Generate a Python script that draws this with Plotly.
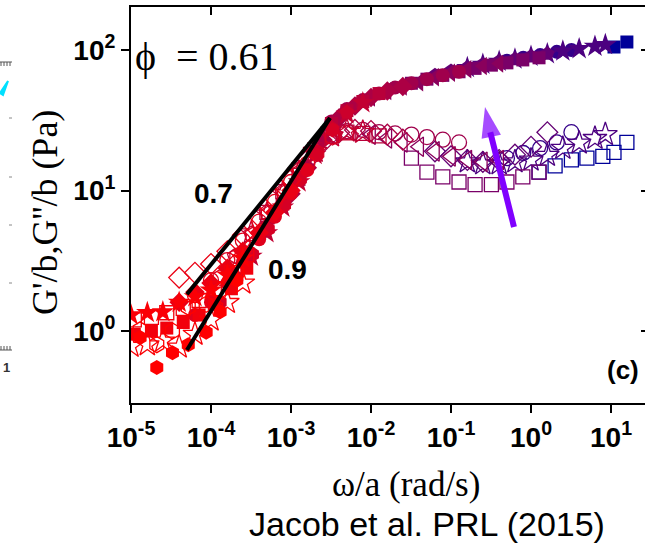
import numpy as np
import plotly.graph_objects as go

# ---------------- data ----------------
w0 = [1.3e-5, 2.1e-5, 3.3e-5, 5.2e-5, 8.7e-5, 1.3e-4, 2.1e-4]
gp0 = [0.90, 0.55, 0.70, 0.80, 0.98, 1.37, 2.3]
gpp0 = [1.02, 0.80, 1.00, 1.48, 1.55, 1.95, 2.6]

w1 = [1.0e-5, 1.6e-5, 2.5e-5, 4.0e-5, 6.3e-5, 1.0e-4, 1.6e-4, 2.5e-4]
gp1 = [1.30, 1.35, 1.37, 1.60, 1.75, 1.95, 2.5, 3.3]
gpp1 = [0.78, 0.80, 0.85, 0.77, 0.95, 1.20, 1.60, 2.2]

w2 = [1.1e-5, 1.8e-5, 2.8e-5, 4.5e-5, 7.1e-5, 1.1e-4, 1.8e-4, 2.8e-4]
gp2 = [0.95, 1.00, 1.05, 1.15, 1.30, 1.55, 2.0, 2.8]
gpp2 = [1.20, 1.25, 1.35, 1.45, 1.65, 2.0, 2.6, 3.5]

w3 = [4.0e-5, 6.3e-5, 1.0e-4, 1.6e-4, 2.5e-4, 4.0e-4, 6.3e-4, 1.0e-3]
gp3 = [1.6, 1.9, 2.2, 2.8, 3.7, 5.0, 7.0, 10.0]
gpp3 = [2.4, 2.6, 3.0, 3.7, 4.8, 6.5, 8.8, 12.0]

w4 = [6.3e-5, 1.0e-4, 1.6e-4, 2.5e-4, 4.0e-4, 6.3e-4, 1.0e-3, 1.6e-3]
gp4 = [1.3, 1.6, 2.2, 3.1, 4.5, 6.5, 9.5, 14.0]
gpp4 = [1.8, 2.3, 3.2, 4.4, 6.0, 8.3, 11.5, 15.5]

w5 = [1.3e-4, 2.1e-4, 3.3e-4, 5.2e-4, 8.3e-4, 1.3e-3, 2.1e-3, 3.3e-3]
gp5 = [1.6, 2.4, 3.5, 5.3, 7.9, 12.0, 18.0, 27.0]
gpp5 = [2.4, 3.4, 4.8, 6.8, 9.6, 13.5, 18.5, 24.0]

w6 = [2.0e-4, 3.2e-4, 5.0e-4, 7.9e-4, 1.26e-3, 2.0e-3, 3.2e-3, 5.0e-3]
gp6 = [2.4, 3.6, 5.4, 8.2, 12.5, 19.0, 28.0, 36.0]
gpp6 = [3.4, 4.9, 7.0, 9.8, 14.0, 19.0, 24.0, 25.5]

w7 = [3.2e-4, 5.0e-4, 7.9e-4, 1.26e-3, 2.0e-3, 3.2e-3, 5.0e-3, 7.9e-3]
gp7 = [3.4, 5.0, 7.6, 11.5, 18.0, 27.0, 35.0, 42.0]
gpp7 = [5.0, 6.8, 9.5, 13.5, 19.0, 24.5, 26.5, 26.0]

w8 = [5.0e-4, 7.9e-4, 1.26e-3, 2.0e-3, 3.2e-3, 5.0e-3, 7.9e-3, 1.26e-2]
gp8 = [5.5, 8.0, 12.0, 19.0, 30.0, 37.0, 43.0, 49.0]
gpp8 = [7.0, 9.8, 14.0, 19.5, 24.5, 26.0, 25.5, 24.5]

w9 = [1.0e-3, 1.6e-3, 2.5e-3, 4.0e-3, 6.3e-3, 1.0e-2, 1.6e-2, 2.5e-2]
gp9 = [9.5, 14.5, 23.0, 33.0, 40.0, 46.0, 51.0, 55.0]
gpp9 = [12.0, 16.5, 22.0, 26.0, 27.0, 26.5, 25.0, 23.0]

w10 = [3.2e-3, 5.0e-3, 7.9e-3, 1.26e-2, 2.0e-2, 3.2e-2, 5.0e-2, 7.9e-2, 1.26e-1]
gp10 = [31.0, 38.0, 44.0, 49.0, 54.0, 58.0, 62.0, 66.0, 70.0]
gpp10 = [25.0, 26.5, 27.0, 26.0, 25.5, 25.0, 24.0, 23.0, 22.0]

w11 = [1.0e-2, 1.6e-2, 2.5e-2, 4.0e-2, 6.3e-2, 1.0e-1, 1.6e-1, 2.5e-1, 4.0e-1]
gp11 = [46.0, 51.0, 55.0, 59.0, 64.0, 69.0, 73.0, 77.0, 80.0]
gpp11 = [25.0, 23.5, 22.0, 20.5, 19.0, 17.5, 16.5, 16.0, 16.5]

w12 = [3.2e-2, 5.0e-2, 7.9e-2, 1.26e-1, 2.0e-1, 3.2e-1, 5.0e-1, 7.9e-1, 1.26]
gp12 = [58, 62, 66, 70, 74, 78, 81, 85, 88]
gpp12 = [17.0, 13.5, 12.5, 11.5, 11.0, 11.0, 11.5, 12.5, 13.5]

w13 = [6.3e-2, 1.0e-1, 1.6e-1, 2.5e-1, 4.0e-1, 6.3e-1, 1.0, 1.6]
gp13 = [66, 71, 75, 79, 83, 86, 90, 94]
gpp13 = [19.0, 17.5, 16.5, 16.0, 16.5, 18.0, 20.5, 26.0]

w14 = [1.6e-1, 2.5e-1, 4.0e-1, 6.3e-1, 1.0, 1.6, 2.5, 4.0, 6.3, 8.5]
gp14 = [75, 79, 83, 86, 90, 94, 98, 102, 106, 109]
gpp14 = [16.0, 15.5, 15.5, 16.0, 16.5, 17.8, 20.0, 21.8, 23.5, 25.0]

w15 = [5.0e-1, 8.0e-1, 1.3, 2.1, 3.2]
gp15 = [84, 88, 92, 97, 100]
gpp15 = [17.0, 18.5, 20.0, 22.0, 26.0]

w16 = [1.26, 2.0, 3.2, 5.0, 7.9, 10.9, 15.8]
gp16 = [None, None, None, None, None, 105, 114]
gpp16 = [13.5, 15.0, 16.5, 17.0, 17.5, 18.7, 22.0]

set_w = [w0, w1, w2, w3, w4, w5, w6, w7, w8, w9, w10, w11, w12, w13, w14, w15, w16]
set_gp = [gp0, gp1, gp2, gp3, gp4, gp5, gp6, gp7, gp8, gp9, gp10, gp11, gp12, gp13, gp14, gp15, gp16]
set_gpp = [gpp0, gpp1, gpp2, gpp3, gpp4, gpp5, gpp6, gpp7, gpp8, gpp9, gpp10, gpp11, gpp12,
           gpp13, gpp14, gpp15, gpp16]

set_colors = ["#ff0000", "#fa0006", "#f2000c", "#ea0014", "#e0001c", "#d60024", "#cc002c",
              "#c20032", "#b8003a", "#ac0044", "#a0004c", "#8a005c", "#7a0068", "#640074",
              "#4c0080", "#34008a", "#000099"]
sym_fill = ["hexagon", "star", "square", "diamond", "circle", "hexagon", "pentagon", "star",
            "square", "diamond", "circle", "triangle-left", "square", "pentagon", "star",
            "circle", "square"]
sym_open = ["hexagon", "star", "square", "diamond", "circle", "hexagon", "pentagon", "star",
            "square", "diamond", "circle", "triangle-left", "square", "diamond", "star",
            "circle", "square"]
sym_size = {"hexagon": 15, "star": 17, "square": 13, "diamond": 15, "circle": 14,
            "pentagon": 15, "triangle-left": 16}

# slope guide lines
slope07_w = [5.0e-5, 3.07e-3]
slope07_g = [1.83, 32.8]
slope09_w = [5.0e-5, 3.07e-3]
slope09_g = [0.733, 32.8]

# arrow (tail -> head base -> tip)
arrow_w = [0.613, 0.31, 0.266]
arrow_g = [5.5, 26.0, 39.3]

xtick_vals = [1e-5, 1e-4, 1e-3, 1e-2, 1e-1, 1e0, 1e1]
xtick_text = ["10<sup>-5</sup>", "10<sup>-4</sup>", "10<sup>-3</sup>", "10<sup>-2</sup>",
              "10<sup>-1</sup>", "10<sup>0</sup>", "10<sup>1</sup>"]
ytick_vals = [1, 10, 100]
ytick_text = ["10<sup>0</sup>", "10<sup>1</sup>", "10<sup>2</sup>"]

# ---------------- figure ----------------
fig = go.Figure()

for i in reversed(range(len(set_w))):
    c = set_colors[i]
    so = sym_open[i]
    sf = sym_fill[i]
    fig.add_trace(go.Scatter(
        x=set_w[i], y=set_gpp[i], mode="markers",
        marker=dict(symbol=so + "-open", size=sym_size[so] + 1, color=c,
                    line=dict(color=c, width=1.3)),
        hoverinfo="skip"))
    fig.add_trace(go.Scatter(
        x=set_w[i], y=set_gp[i], mode="markers",
        marker=dict(symbol=sf, size=sym_size[sf], color=c, line=dict(width=0)),
        hoverinfo="skip"))

for xs, ys in [(slope07_w, slope07_g), (slope09_w, slope09_g)]:
    fig.add_trace(go.Scatter(x=xs, y=ys, mode="lines",
                             line=dict(color="black", width=4), hoverinfo="skip"))

# arrow shaft
fig.add_trace(go.Scatter(x=arrow_w[:2], y=arrow_g[:2], mode="lines",
                         line=dict(color="#8000ff", width=6), hoverinfo="skip"))
# arrow head
fig.add_trace(go.Scatter(x=arrow_w[1:], y=arrow_g[1:], mode="markers",
                         marker=dict(symbol="arrow", size=[0, 32], color="#8000ff",
                                     angleref="previous", line=dict(width=0)),
                         hoverinfo="skip"))

# invisible helpers for the mirrored axes
fig.add_trace(go.Scatter(x=[1e-3], y=[10], xaxis="x2", yaxis="y", mode="markers",
                         marker=dict(opacity=0), hoverinfo="skip"))
fig.add_trace(go.Scatter(x=[1e-3], y=[10], xaxis="x", yaxis="y2", mode="markers",
                         marker=dict(opacity=0), hoverinfo="skip"))

xr = [-5, 1.425]
yr = [-0.512, 2.306]
tickfont = dict(family="Liberation Sans", size=28, color="black", weight="bold")

fig.update_layout(
    width=645, height=544,
    margin=dict(l=131, r=0, t=7, b=141),
    paper_bgcolor="white", plot_bgcolor="white",
    showlegend=False,
    xaxis=dict(type="log", range=xr, showline=True, linecolor="black", linewidth=2,
               ticks="outside", ticklen=8, tickwidth=2, tickcolor="black",
               tickvals=xtick_vals, ticktext=xtick_text, tickfont=tickfont,
               showgrid=False, zeroline=False),
    xaxis2=dict(type="log", range=xr, overlaying="x", side="top", showline=True,
                linecolor="black", linewidth=2, ticks="inside", ticklen=8, tickwidth=2,
                tickcolor="black", tickvals=xtick_vals, showticklabels=False,
                showgrid=False, zeroline=False),
    yaxis=dict(type="log", range=yr, showline=True, linecolor="black", linewidth=2,
               ticks="outside", ticklen=8, tickwidth=2, tickcolor="black",
               tickvals=ytick_vals, ticktext=ytick_text, tickfont=tickfont,
               showgrid=False, zeroline=False),
    yaxis2=dict(type="log", range=yr, overlaying="y", side="right", showline=False,
                ticks="inside", ticklen=4, tickwidth=2, tickcolor="black",
                tickvals=ytick_vals, showticklabels=False, showgrid=False, zeroline=False),
)

serif = "Liberation Serif"
sans = "Liberation Sans"
ann = [
    dict(text="ω/a (rad/s)", x=0.535, y=-0.205, font=dict(family=serif, size=35)),
    dict(text="Jacob et al. PRL (2015)", x=0.576, y=-0.3055, font=dict(family=sans, size=34)),
    dict(text="G'/b,G''/b (Pa)", x=-0.167, y=0.48, textangle=-90,
         font=dict(family=serif, size=36)),
    dict(text="ϕ  = 0.61", x=0.148, y=0.876, font=dict(family=serif, size=40)),
    dict(text="<b>0.7</b>", x=0.161, y=0.53, font=dict(family=sans, size=28)),
    dict(text="<b>0.9</b>", x=0.305, y=0.337, font=dict(family=sans, size=28)),
    dict(text="<b>(c)</b>", x=0.957, y=0.083, font=dict(family=sans, size=26)),
    dict(text="<b>1</b>", x=-0.243, y=0.09, font=dict(family=sans, size=13, color="#333")),
]
for a in ann:
    a.setdefault("font", {})
    a["font"].setdefault("color", "black")
    fig.add_annotation(xref="paper", yref="paper", showarrow=False,
                       xanchor="center", yanchor="middle", **a)

# fragments of the neighbouring panel at the left edge (paper coords)
def px(xp):
    return (xp - 131) / 514.0

def py(yp):
    return (403 - yp) / 396.0

shapes = []
shapes.append(dict(type="line", x0=px(0), x1=px(12), y0=py(62), y1=py(62),
                   line=dict(color="#555", width=1)))
shapes.append(dict(type="line", x0=px(0), x1=px(12), y0=py(350), y1=py(350),
                   line=dict(color="#555", width=1)))
for xx in [1, 4, 7, 10]:
    shapes.append(dict(type="line", x0=px(xx), x1=px(xx), y0=py(62), y1=py(66),
                       line=dict(color="#555", width=1)))
    shapes.append(dict(type="line", x0=px(xx), x1=px(xx), y0=py(346), y1=py(350),
                       line=dict(color="#555", width=1)))
for yy in [118, 177, 225, 283]:
    shapes.append(dict(type="line", x0=px(9), x1=px(12), y0=py(yy), y1=py(yy),
                       line=dict(color="#888", width=1)))
shapes.append(dict(type="path", path="M %f,%f L %f,%f L %f,%f Z" % (
    px(0), py(93), px(8), py(81), px(3), py(95)), fillcolor="#00e0ff",
    line=dict(color="#00e0ff", width=2)))
for s in shapes:
    s["xref"] = "paper"
    s["yref"] = "paper"
    fig.add_shape(**s)

fig.write_html("out.html")
